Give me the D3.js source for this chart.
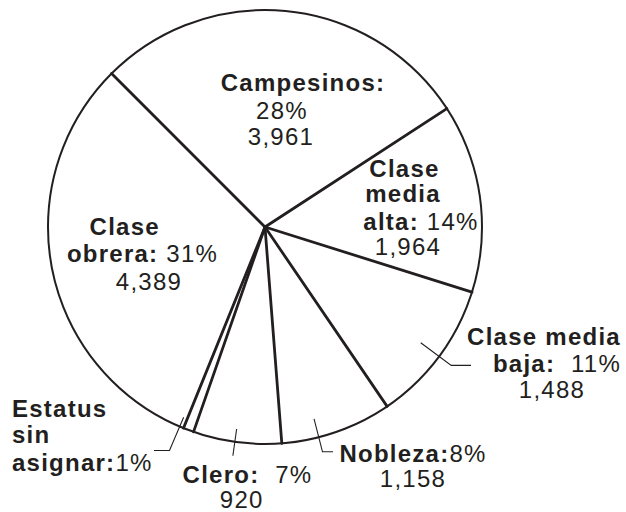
<!DOCTYPE html>
<html>
<head>
<meta charset="utf-8">
<script src="https://cdn.jsdelivr.net/npm/d3@7"></script>
<style>
  html, body { margin: 0; padding: 0; background: #ffffff; }
  svg { display: block; }
  text { font-family: "Liberation Sans", Arial, Helvetica, sans-serif; fill: #231f20; white-space: pre; }
</style>
</head>
<body>
<svg id="chart" width="626" height="512"></svg>
<script>
// ---- Data ----
const categories = ["Campesinos", "Clase media alta", "Clase media baja", "Nobleza", "Clero", "Estatus sin asignar", "Clase obrera"];
const values = [3961, 1964, 1488, 1158, 920, 110, 4389];
const percents = ["28%", "14%", "11%", "8%", "7%", "1%", "31%"];

// ---- Layout (positions / styles, kept separate from data) ----
const W = 626, H = 512;
const cx = 265, cy = 227, R = 217;
const startDeg = -45;
const ink = "#231f20";
const fontSize = 24, letterSp = 1.25;

const labelLayout = [
  { breaks: [1], pct: "line", lines: [[303, 91], [282, 119], [281, 145]] },
  { breaks: [1, 1, 1], pct: "inline", sep: " ", lines: [[404.5, 177], [403, 202], [421, 230], [408, 255]] },
  { breaks: [2, 1], pct: "inline", sep: "  ", lines: [[544, 345], [557, 372], [552, 398]],
    leader: { off: 0, r1: 194, r2: 232, hx: 471 } },
  { breaks: [1], pct: "inline", sep: "", lines: [[413, 462], [413, 487]],
    leader: { off: 5, r1: 198, r2: 232, hx: 333 } },
  { breaks: [1], pct: "inline", sep: "  ", lines: [[247.5, 483], [241.7, 508]],
    leader: { off: 0.6, r1: 204, r2: 231 } },
  { breaks: [1, 1, 1], pct: "inline", sep: "", anchor: "start", noValue: true, lines: [[12, 417], [12, 443], [12, 471]],
    leader: { off: 2.5, r1: 207, r2: 243, hx: 154 } },
  { breaks: [1, 1], pct: "inline", sep: " ", lines: [[124.7, 235], [142.5, 262], [149, 290]] }
];

const rad = d => d * Math.PI / 180;
const svg = d3.select("#chart");
const g = svg.append("g").attr("transform", `translate(${cx},${cy})`);

const data = categories.map((c, i) => ({ name: c, value: values[i], pct: percents[i], idx: i }));
const pie = d3.pie().sort(null).value(d => d.value)
  .startAngle(rad(startDeg)).endAngle(rad(startDeg) + 2 * Math.PI);
const arcs = pie(data);
const arc = d3.arc().innerRadius(0).outerRadius(R);

// slices (white fill)
g.selectAll("path.slice").data(arcs).join("path")
  .attr("class", "slice")
  .attr("d", arc)
  .attr("fill", "#ffffff")
  .attr("stroke", "none");

// outer outline
g.append("circle").attr("r", R).attr("fill", "none").attr("stroke", ink).attr("stroke-width", 2);

// spokes at each slice boundary
g.selectAll("line.spoke").data(arcs).join("line")
  .attr("class", "spoke")
  .attr("x1", 0).attr("y1", 0)
  .attr("x2", d => d3.pointRadial(d.startAngle, R)[0])
  .attr("y2", d => d3.pointRadial(d.startAngle, R)[1])
  .attr("stroke", ink).attr("stroke-width", 2.8).attr("stroke-linecap", "round");

// leader lines
arcs.forEach((a, i) => {
  const L = labelLayout[i].leader;
  if (!L) return;
  const ang = (a.startAngle + a.endAngle) / 2 + rad(L.off);
  const p1 = d3.pointRadial(ang, L.r1);
  const p2 = d3.pointRadial(ang, L.r2);
  const pts = [p1, p2];
  if (L.hx !== undefined) pts.push([L.hx - cx, p2[1]]);
  g.append("path")
    .attr("d", d3.line()(pts))
    .attr("fill", "none").attr("stroke", ink).attr("stroke-width", 1.1);
});

// labels
const fmt = d3.format(",");
arcs.forEach((a, i) => {
  const lay = labelLayout[i];
  const words = a.data.name.split(" ");
  const lines = [];
  let k = 0;
  lay.breaks.forEach(n => { lines.push([{ t: words.slice(k, k + n).join(" "), b: true }]); k += n; });
  lines[lines.length - 1][0].t += ":";
  if (lay.pct === "inline") lines[lines.length - 1].push({ t: lay.sep + a.data.pct, b: false });
  else lines.push([{ t: a.data.pct, b: false }]);
  if (!lay.noValue) lines.push([{ t: fmt(a.data.value), b: false }]);

  lines.forEach((segs, li) => {
    const [x, y] = lay.lines[li];
    const t = svg.append("text")
      .attr("x", x).attr("y", y)
      .attr("text-anchor", lay.anchor || "middle")
      .attr("font-size", fontSize)
      .attr("letter-spacing", letterSp);
    segs.forEach(s => {
      t.append("tspan").attr("font-weight", s.b ? "bold" : "normal").text(s.t);
    });
  });
});
</script>
</body>
</html>
